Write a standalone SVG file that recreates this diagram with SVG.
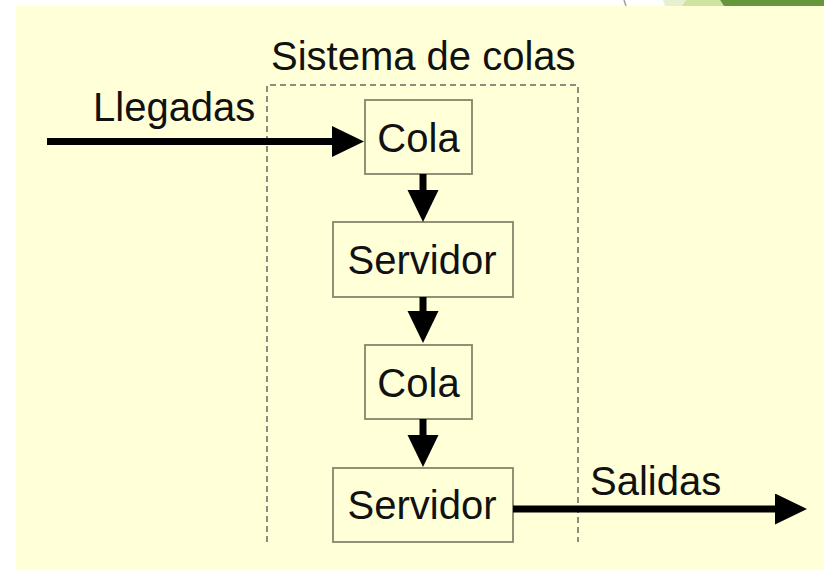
<svg xmlns="http://www.w3.org/2000/svg" width="824" height="571" viewBox="0 0 824 571">
  <style>
    .box { fill: #FFFFD8; stroke: #85856A; stroke-width: 1.8; }
    .lbl { font-family: "Liberation Sans", Arial, sans-serif; font-size: 40px; fill: #111111; }
    .mid { text-anchor: middle; }
    .conn { stroke: #000000; stroke-width: 7; fill: none; }
    .frame { fill: none; stroke: #6A6A60; stroke-width: 1.5; stroke-dasharray: 6 4; }
  </style>
  <defs>
    <marker id="ah" markerUnits="userSpaceOnUse" markerWidth="33" markerHeight="32" refX="1" refY="15.5" orient="auto">
      <path d="M0,0 L32,15.5 L0,31 Z" fill="#000000"/>
    </marker>
  </defs>

  <!-- page background -->
  <rect x="0" y="0" width="824" height="571" fill="#FFFFFF"/>
  <polygon points="663,0 686,0 682,6 665,6" fill="#E6F0D2"/>
  <polygon points="686,0 720,0 724,6 682,6" fill="#CFE4A0"/>
  <polygon points="720,0 824,0 824,6 724,6" fill="#66963C"/>
  <line x1="624" y1="0" x2="626" y2="6" stroke="#A0A0A0" stroke-width="1.5"/>
  <rect x="16" y="6" width="808" height="564" fill="#FFFFD8"/>

  <!-- system frame -->
  <g id="sistema">
    <path class="frame" d="M267,542 V85 H578 V542"/>
    <text class="lbl" x="271" y="70">Sistema de colas</text>
  </g>

  <g id="cola1">
    <rect class="box" x="365" y="100" width="107" height="74"/>
    <text class="lbl mid" x="418.5" y="152">Cola</text>
  </g>
  <g id="servidor1">
    <rect class="box" x="333" y="222" width="180" height="75"/>
    <text class="lbl mid" x="422" y="274">Servidor</text>
  </g>
  <g id="cola2">
    <rect class="box" x="365" y="345" width="107" height="74"/>
    <text class="lbl mid" x="418.5" y="397">Cola</text>
  </g>
  <g id="servidor2">
    <rect class="box" x="333" y="468" width="180" height="74"/>
    <text class="lbl mid" x="422" y="519">Servidor</text>
  </g>

  <g id="labels">
    <text class="lbl" x="93" y="121">Llegadas</text>
    <text class="lbl" x="590" y="495">Salidas</text>
  </g>

  <g id="connectors">
    <line class="conn" x1="47" y1="141.5" x2="333" y2="141.5" marker-end="url(#ah)"/>
    <line class="conn" x1="423" y1="174" x2="423" y2="191" marker-end="url(#ah)"/>
    <line class="conn" x1="423" y1="297" x2="423" y2="312" marker-end="url(#ah)"/>
    <line class="conn" x1="423" y1="419" x2="423" y2="436" marker-end="url(#ah)"/>
    <line class="conn" x1="513" y1="509" x2="776" y2="509" marker-end="url(#ah)"/>
  </g>
</svg>
